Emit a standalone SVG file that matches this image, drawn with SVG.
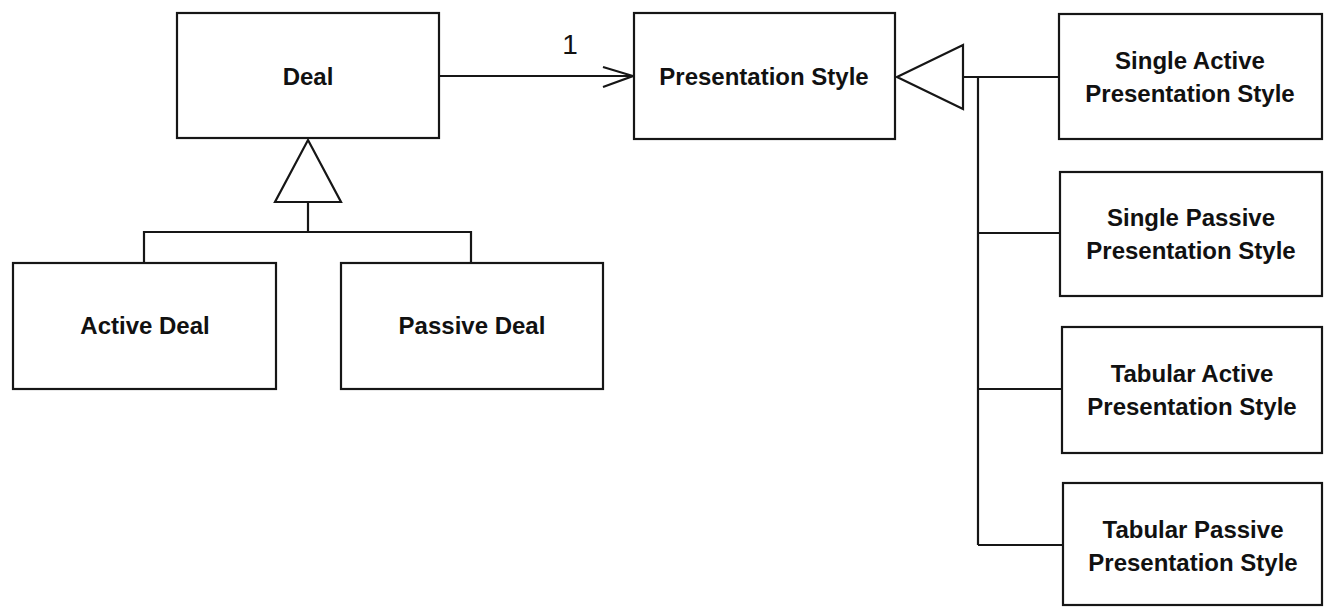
<svg xmlns="http://www.w3.org/2000/svg" width="1324" height="607" viewBox="0 0 1324 607">
<style>
.box{fill:#fff;stroke:#161616;stroke-width:2.2}
.ln{fill:none;stroke:#161616;stroke-width:2.2}
.tri{fill:#fff;stroke:#161616;stroke-width:2.2;stroke-linejoin:miter}
.t{font-family:"Liberation Sans",Arial,sans-serif;font-weight:bold;font-size:24px;fill:#111;text-anchor:middle}
.lbl{font-family:"Liberation Sans",Arial,sans-serif;font-size:28px;fill:#111;text-anchor:middle}
</style>
<rect width="1324" height="607" fill="#fff"/>
<g id="connectors">
  <line class="ln" x1="439" y1="76" x2="633" y2="76"/>
  <polyline class="ln" points="603,67 633,76 603,87"/>
  <text class="lbl" x="570" y="54">1</text>
  <polygon class="tri" points="308,140 341,202 275,202"/>
  <line class="ln" x1="308" y1="202" x2="308" y2="232"/>
  <polyline class="ln" points="144,263 144,232 471,232 471,263"/>
  <polygon class="tri" points="897,77 963,45 963,109"/>
  <line class="ln" x1="963" y1="77" x2="1059" y2="77"/>
  <line class="ln" x1="978" y1="77" x2="978" y2="545"/>
  <line class="ln" x1="978" y1="233" x2="1060" y2="233"/>
  <line class="ln" x1="978" y1="389" x2="1062" y2="389"/>
  <line class="ln" x1="978" y1="545" x2="1063" y2="545"/>
</g>
<g id="deal">
  <rect class="box" x="177" y="13" width="262" height="125"/>
  <text class="t" x="308" y="85">Deal</text>
</g>
<g id="active-deal">
  <rect class="box" x="13" y="263" width="263" height="126"/>
  <text class="t" x="145" y="334">Active Deal</text>
</g>
<g id="passive-deal">
  <rect class="box" x="341" y="263" width="262" height="126"/>
  <text class="t" x="472" y="334">Passive Deal</text>
</g>
<g id="presentation-style">
  <rect class="box" x="634" y="13" width="261" height="126"/>
  <text class="t" x="764" y="85">Presentation Style</text>
</g>
<g id="single-active">
  <rect class="box" x="1059" y="14" width="263" height="125"/>
  <text class="t" x="1190" y="69">Single Active</text>
  <text class="t" x="1190" y="102">Presentation Style</text>
</g>
<g id="single-passive">
  <rect class="box" x="1060" y="172" width="262" height="124"/>
  <text class="t" x="1191" y="226">Single Passive</text>
  <text class="t" x="1191" y="259">Presentation Style</text>
</g>
<g id="tabular-active">
  <rect class="box" x="1062" y="327" width="260" height="126"/>
  <text class="t" x="1192" y="382">Tabular Active</text>
  <text class="t" x="1192" y="415">Presentation Style</text>
</g>
<g id="tabular-passive">
  <rect class="box" x="1063" y="483" width="259" height="122"/>
  <text class="t" x="1193" y="538">Tabular Passive</text>
  <text class="t" x="1193" y="571">Presentation Style</text>
</g>
</svg>
